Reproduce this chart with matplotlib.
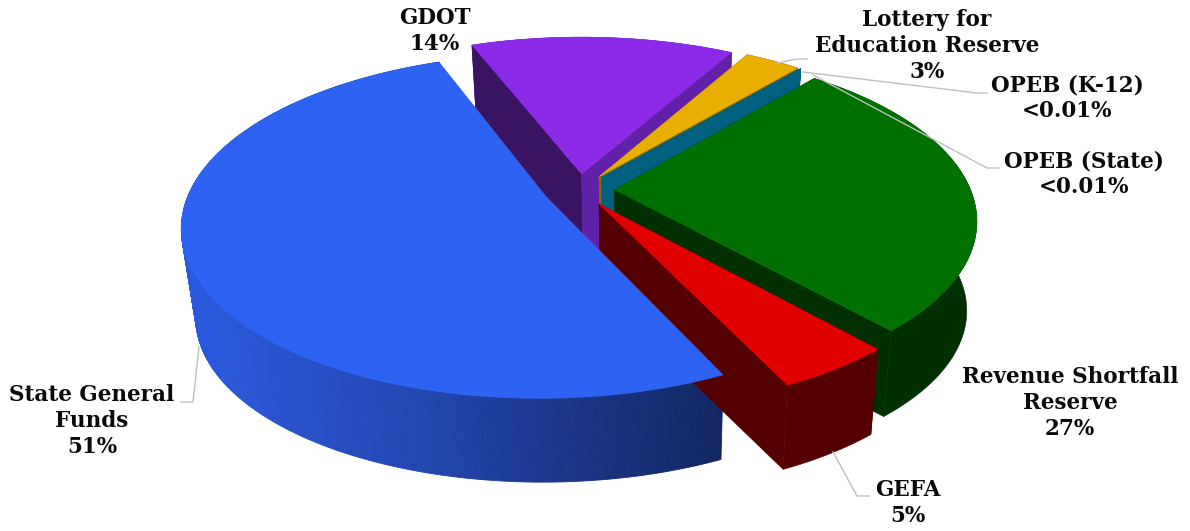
import numpy as np
import matplotlib
matplotlib.use("Agg")
import matplotlib.pyplot as plt

names = ["State General\nFunds", "GDOT", "Lottery for\nEducation Reserve", "OPEB (K-12)", "OPEB (State)",
         "Revenue Shortfall\nReserve", "GEFA"]
shares = [51.4, 14.1, 3, 0.01, 0.01, 27.3, 4.5]
share_labels = ["51%", "14%", "3%", "<0.01%", "<0.01%", "27%", "5%"]

top_colors = ["#2E62F2", "#8B2BE8", "#E8AE00", "#00607F", "#00607F", "#007000", "#E00000"]
rim_colors = ["#2E62F2", "#6020A8", "#8C6900", "#00607F", "#00607F", "#003000", "#550000"]
# wall on the start edge and wall on the end edge of each slice
start_walls = ["#1B3A90", "#3A1460", "#8C6900", "#00607F", "#00607F", "#003000", "#550000"]
end_walls = ["#1B3A90", "#6020A8", "#8C6900", "#00607F", "#00607F", "#003000", "#550000"]

label_x = [92, 435, 927, 1067, 1084, 1070, 908]
label_y = [421, 31, 46, 98, 174, 403, 503]

# pie geometry in pixels
cx, cy = 579, 190
a, b, k = 356, 165, 0.17
explode = 0.1
first_angle = 154.4
vx, vy, shrink = 650, 3100, 0.969


def project(X, Y):
    w = 1 - k*np.asarray(Y)
    return cx + a*np.asarray(X)/w, cy + b*np.asarray(Y)/w


def lower(x, y):
    return vx + shrink*(x - vx), vy + shrink*(y - vy)


fig = plt.figure(figsize=(11.9, 5.31), dpi=100)
ax = fig.add_axes([0, 0, 1, 1])
ax.set_xlim(0, 1190)
ax.set_ylim(531, 0)
ax.axis("off")

total = sum(shares)
sweeps = [s/total*360 for s in shares]
starts = first_angle + np.concatenate([[0], np.cumsum(sweeps)[:-1]])
# back slices first, blue goes on top of its neighbours
order = [1, 2, 3, 4, 5, 6, 0]

for i in order:
    t0 = np.radians(starts[i])
    t1 = np.radians(starts[i] + sweeps[i])
    mid = (t0 + t1)/2
    ox, oy = explode*np.sin(mid), -explode*np.cos(mid)
    t = np.linspace(t0, t1, max(3, int(sweeps[i]*2)))
    rim_x, rim_y = project(ox + np.sin(t), oy - np.cos(t))
    ax_x, ax_y = project(ox, oy)
    low_x, low_y = lower(rim_x, rim_y)
    low_ax, low_ay = lower(ax_x, ax_y)

    # outer side
    if i == 0:
        for j in range(len(t) - 1):
            mx = (rim_x[j] + rim_x[j + 1])/2
            r = np.interp(mx, [190, 450, 720], [0.17, 0.13, 0.07])
            g = np.interp(mx, [190, 450, 720], [0.35, 0.26, 0.15])
            bl = np.interp(mx, [190, 450, 720], [0.87, 0.66, 0.38])
            ax.fill([rim_x[j], rim_x[j + 1], low_x[j + 1], low_x[j]],
                    [rim_y[j], rim_y[j + 1], low_y[j + 1], low_y[j]],
                    color=(r, g, bl), lw=0.6, zorder=i + 1)
    else:
        ax.fill(np.r_[rim_x, low_x[::-1]], np.r_[rim_y, low_y[::-1]], color=rim_colors[i], lw=0.4, zorder=i + 1)

        # the two cut walls, the ones of the big blue slice stay hidden
        ax.fill([ax_x, rim_x[0], low_x[0], low_ax], [ax_y, rim_y[0], low_y[0], low_ay],
                color=start_walls[i], lw=0.4, zorder=i + 1)
        ax.fill([ax_x, rim_x[-1], low_x[-1], low_ax], [ax_y, rim_y[-1], low_y[-1], low_ay],
                color=end_walls[i], lw=0.4, zorder=i + 1)

    z = 20 if i == 0 else i + 1
    ax.fill(np.r_[ax_x, rim_x], np.r_[ax_y, rim_y], color=top_colors[i], lw=0.3, zorder=z)

# leader lines
leaders = [
    ([199, 193, 181], [347, 402, 402]),
    ([777, 797, 807], [63, 59, 59]),
    ([803, 977, 987], [72, 93, 93]),
    ([813, 987, 999], [75, 168, 168]),
    ([833, 857, 869], [452, 496, 496]),
]
for lx, ly in leaders:
    ax.plot(lx, ly, color="#BFBFBF", lw=1, zorder=30)

for i in range(len(names)):
    ax.text(label_x[i], label_y[i], names[i] + "\n" + share_labels[i], ha="center", va="center",
            family="DejaVu Serif", weight="bold", fontsize=15.5, color="#0A0A0A",
            linespacing=1.22, zorder=40)

fig.savefig("out.png", dpi=100)
